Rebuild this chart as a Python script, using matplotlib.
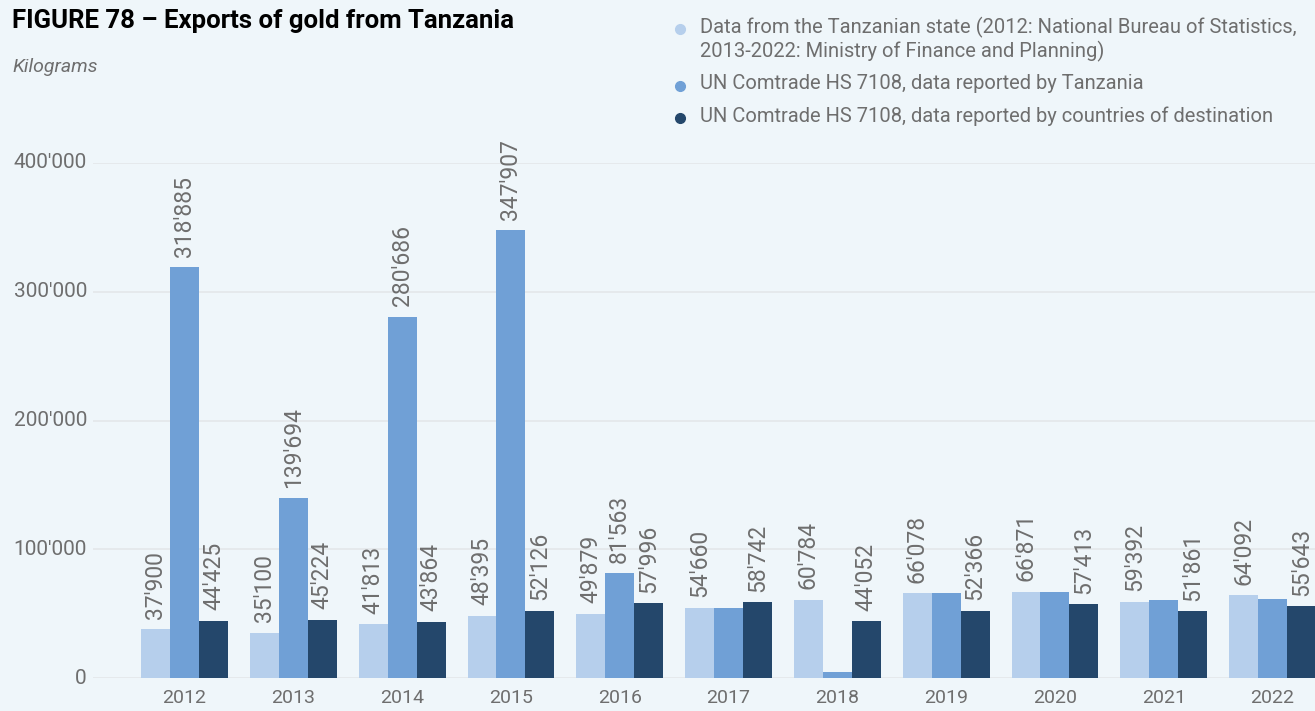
import matplotlib
matplotlib.use("Agg")
import matplotlib.pyplot as plt
import matplotlib.transforms as mtransforms
import numpy as np

years = ["2012", "2013", "2014", "2015", "2016", "2017", "2018", "2019", "2020", "2021", "2022"]
state_data = [37900, 35100, 41813, 48395, 49879, 54660, 60784, 66078, 66871, 59392, 64092]
comtrade_tz = [318885, 139694, 280686, 347907, 81563, 54660, 4700, 66078, 66871, 60500, 61000]
comtrade_dest = [44425, 45224, 43864, 52126, 57996, 58742, 44052, 52366, 57413, 51861, 55643]
comtrade_tz_labelled = [True, True, True, True, True, False, False, False, False, False, False]

series_names = [
    "Data from the Tanzanian state (2012: National Bureau of Statistics,\n2013-2022: Ministry of Finance and Planning)",
    "UN Comtrade HS 7108, data reported by Tanzania",
    "UN Comtrade HS 7108, data reported by countries of destination",
]
y_ticks = [0, 100000, 200000, 300000, 400000]

BG = "#EFF6FA"
COLORS = ["#B6CFEC", "#70A0D6", "#24476B"]
GRAY = "#6E6E6E"
FONT = "Roboto"

def fmt(v):
    return f"{v:,}".replace(",", "'")

fig = plt.figure(figsize=(13.15, 7.11), dpi=100, facecolor=BG)
ax = fig.add_axes([93 / 1315, 1 - 678 / 711, 1 - 93 / 1315, (678 - 163) / 711])
ax.set_facecolor(BG)

x = np.arange(len(years))
w = 0.266
series = [state_data, comtrade_tz, comtrade_dest]
labelled = [[True] * len(years), comtrade_tz_labelled, [True] * len(years)]
for i, (vals, col) in enumerate(zip(series, COLORS)):
    xs = x + (i - 1) * w
    ax.bar(xs, vals, width=w, color=col, zorder=3, linewidth=0)
    for xi, v, show in zip(xs, vals, labelled[i]):
        if show:
            ax.annotate(fmt(v), (xi, v), xytext=(0, 7.5), textcoords="offset points",
                        rotation=90, ha="center", va="bottom", fontsize=16.5,
                        color=GRAY, family=FONT, annotation_clip=False)

ax.set_xlim(-0.841, 10.39)
ax.set_ylim(0, 400000)
for t in y_ticks:
    ax.axhline(t, color="#E2E6E9", lw=1.1, zorder=1)
ax.set_yticks([])
ax.set_xticks(x)
ax.set_xticklabels(years, fontsize=14, color=GRAY, family=FONT)
ax.tick_params(axis="x", length=0, pad=8)
for s in ax.spines.values():
    s.set_visible(False)

# y tick labels, right aligned left of the grid
trans = mtransforms.blended_transform_factory(fig.transFigure, ax.transData)
for t in y_ticks:
    ax.text(87 / 1315, t, fmt(t), transform=trans, ha="right", va="center",
            fontsize=15, color=GRAY, family=FONT)

fig.text(12 / 1315, 1 - 21 / 711, "FIGURE 78 – Exports of gold from Tanzania",
         fontsize=18.5, fontweight="bold", color="black", family=FONT, va="center")
fig.text(12 / 1315, 1 - 67 / 711, "Kilograms", fontsize=14, style="italic",
         color=GRAY, family=FONT, va="center")

# legend
leg_rows = [29, 86, 118]
for name, col, yy in zip(series_names, COLORS, leg_rows):
    fig.lines.append(plt.Line2D([680 / 1315], [1 - yy / 711], marker="o", markersize=7,
                                color=col, linestyle="none", transform=fig.transFigure))
    fig.text(700 / 1315, 1 - (yy - 12) / 711, name, fontsize=14.5, color=GRAY,
             family=FONT, va="top", ha="left", linespacing=1.2)

fig.savefig("out.png", dpi=100, facecolor=BG)
